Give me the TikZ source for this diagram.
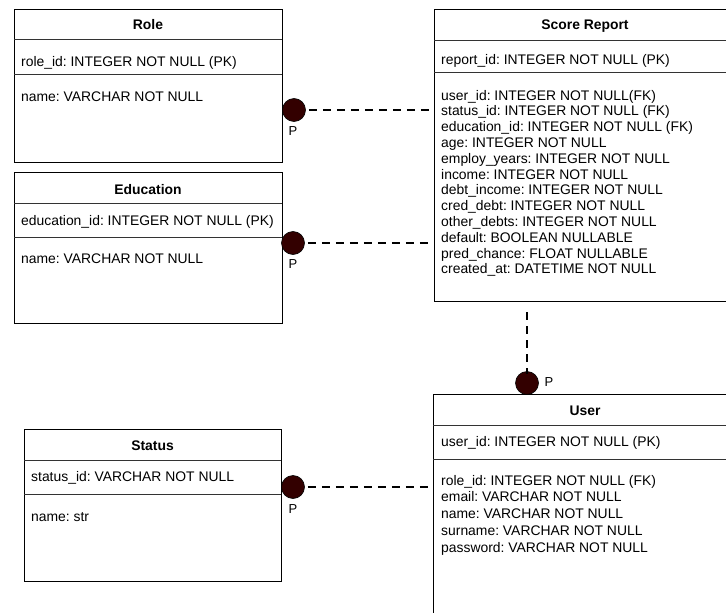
\documentclass[tikz,border=0pt]{standalone}
\usepackage{fontspec}
\setmainfont{Liberation Sans}
\definecolor{dotc}{HTML}{330000}
\definecolor{sepc}{HTML}{333333}
\frenchspacing
\begin{document}
\begin{tikzpicture}[x=1pt,y=-1pt,
  ent/.style={draw=black, line width=1pt, rectangle, anchor=north west, inner sep=0pt},
  sepline/.style={draw=sepc, line width=1pt},
  ttl/.style={font=\fontsize{13.9}{16}\selectfont\bfseries, inner sep=0pt, anchor=base},
  fld/.style={font=\fontsize{13.9}{16}\selectfont, anchor=base west, inner sep=0pt},
  dot/.style={circle, fill=dotc, draw=black, line width=0.6pt, minimum size=23pt, inner sep=0pt},
  rel/.style={line width=2pt, dash pattern=on 8pt off 6pt},
  plab/.style={font=\fontsize{13}{15}\selectfont, inner sep=0pt}]
\useasboundingbox (0,0) rectangle (726,613);
\clip (0,0) rectangle (726,613);

% Role
\node[ent, minimum width=268pt, minimum height=153pt] (role) at (14,9) {};
\draw[sepline] (14,39) -- (282,39);
\draw[sepline] (14,74) -- (282,74);
\node[ttl] (roleT) at (148,30) {Role};
\node[fld] (roleF1) at (21,66) {role\_id: INTEGER NOT NULL (PK)};
\node[fld] (roleF2) at (21,101) {name: VARCHAR NOT NULL};

% Education
\node[ent, minimum width=268pt, minimum height=151pt] (edu) at (14,172) {};
\draw[sepline] (14,203) -- (282,203);
\draw[sepline] (14,237) -- (282,237);
\node[ttl] (eduT) at (148,194) {Education};
\node[fld] (eduF1) at (21,225) {education\_id: INTEGER NOT NULL (PK)};
\node[fld] (eduF2) at (21,263) {name: VARCHAR NOT NULL};

% Status
\node[ent, minimum width=257pt, minimum height=152pt] (status) at (24,429) {};
\draw[sepline] (24,460) -- (281,460);
\draw[sepline] (24,494) -- (281,494);
\node[ttl] (statusT) at (152.5,450) {Status};
\node[fld] (statusF1) at (31,481) {status\_id: VARCHAR NOT NULL};
\node[fld] (statusF2) at (31,521) {name: str};

% Score Report
\node[ent, minimum width=302pt, minimum height=292pt] (sr) at (434,9) {};
\draw[sepline] (434,40) -- (736,40);
\draw[sepline] (434,72) -- (736,72);
\node[ttl] (srT) at (585,30) {Score Report};
\node[fld] (srF0) at (441,64) {report\_id: INTEGER NOT NULL (PK)};
\foreach \t [count=\i from 0] in {user\_id: INTEGER NOT NULL(FK),
  status\_id: INTEGER NOT NULL (FK),
  education\_id: INTEGER NOT NULL (FK),
  age: INTEGER NOT NULL,
  employ\_years: INTEGER NOT NULL,
  income: INTEGER NOT NULL,
  debt\_income: INTEGER NOT NULL,
  cred\_debt: INTEGER NOT NULL,
  other\_debts: INTEGER NOT NULL,
  default: BOOLEAN NULLABLE,
  pred\_chance: FLOAT NULLABLE,
  created\_at: DATETIME NOT NULL}
  \node[fld] (srF\i) at (441,{100+15.8*\i}) {\t};

% User
\node[ent, minimum width=303pt, minimum height=230pt] (user) at (433,394) {};
\draw[sepline] (433,425) -- (736,425);
\draw[sepline] (433,459) -- (736,459);
\node[ttl] (userT) at (585,415) {User};
\node[fld] (userF0) at (441,446) {user\_id: INTEGER NOT NULL (PK)};
\foreach \t [count=\i from 0] in {role\_id: INTEGER NOT NULL (FK),
  email: VARCHAR NOT NULL,
  name: VARCHAR NOT NULL,
  surname: VARCHAR NOT NULL,
  password: VARCHAR NOT NULL}
  \node[fld] (userF\i) at (441,{485+16.9*\i}) {\t};

% Relationship dots
\node[dot] (d1) at (294,110) {};
\node[plab] (p1) at (293,131) {P};
\node[dot] (d2) at (293,243) {};
\node[plab] (p2) at (293,264) {P};
\node[dot] (d3) at (293,487) {};
\node[plab] (p3) at (293,509) {P};
\node[dot] (d4) at (527,383) {};
\node[plab] (p4) at (549,382) {P};

% Connectors
\coordinate (e1) at (430,110);
\coordinate (e2) at (430,243);
\coordinate (e3) at (428,487);
\coordinate (e4) at (527,312);
\draw[rel] ([xshift=3pt]d1.east) -- (e1);
\draw[rel] ([xshift=3pt]d2.east) -- (e2);
\draw[rel] ([xshift=3pt]d3.east) -- (e3);
\draw[rel] (e4) -- ([yshift=-3pt]d4.north);
\end{tikzpicture}
\end{document}
